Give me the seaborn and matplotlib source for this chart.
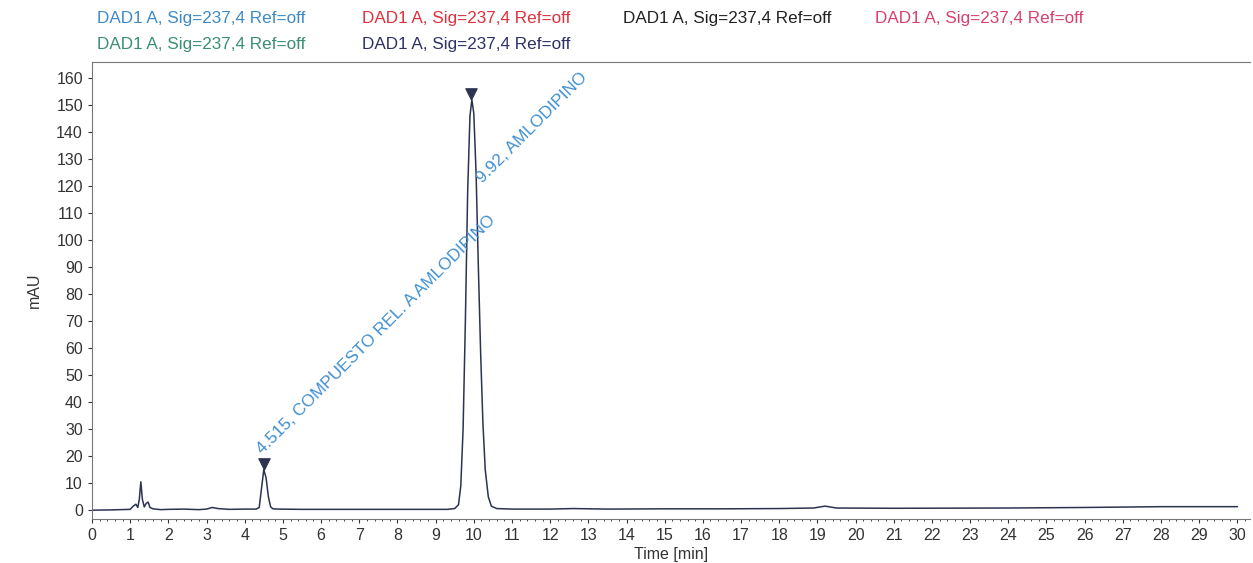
import pandas as pd
import seaborn as sns
import matplotlib.pyplot as plt
from matplotlib.ticker import MultipleLocator

# chromatogram trace (time in min, signal in mAU)
time_min = [0.0, 0.5, 1.0, 1.08, 1.15, 1.2, 1.24, 1.28, 1.32, 1.37, 1.42, 1.47, 1.52, 1.6,
            1.8, 2.0, 2.4, 2.8, 3.0, 3.15, 3.3, 3.6, 4.0, 4.3, 4.38, 4.44, 4.5, 4.56, 4.62,
            4.68, 4.74, 4.9, 5.5, 6.5, 7.5, 8.5, 9.3, 9.5, 9.6, 9.66, 9.72, 9.78, 9.84, 9.9,
            9.95, 10.0, 10.06, 10.12, 10.18, 10.24, 10.3, 10.38, 10.46, 10.6, 11.0, 12.0,
            12.6, 13.5, 15.0, 16.5, 18.0, 18.9, 19.2, 19.5, 21.0, 24.0, 26.0, 28.0, 30.0]
signal_mau = [0.0, 0.1, 0.3, 1.5, 2.2, 1.0, 4.0, 10.5, 4.0, 1.2, 2.5, 3.0, 1.0, 0.5,
              0.2, 0.3, 0.4, 0.2, 0.4, 1.0, 0.6, 0.3, 0.4, 0.4, 1.0, 8.0, 15.0, 12.0, 5.0,
              1.2, 0.5, 0.4, 0.3, 0.3, 0.3, 0.3, 0.3, 0.6, 2.0, 9.0, 30.0, 70.0, 118.0, 146.0,
              152.0, 147.0, 125.0, 90.0, 58.0, 32.0, 15.0, 5.0, 1.5, 0.6, 0.4, 0.4,
              0.6, 0.4, 0.5, 0.5, 0.6, 0.8, 1.5, 0.8, 0.7, 0.8, 1.0, 1.3, 1.3]

# integrated peaks
peak_rt = [4.515, 9.92]
peak_mark = [17.0, 154.0]
peak_names = ["4.515, COMPUESTO REL. A AMLODIPINO", "9.92, AMLODIPINO"]
label_x = [4.47, 10.24]
label_y = [20.5, 121.0]

legend_txt = "DAD1 A, Sig=237,4 Ref=off"
legend_colors = ["#3d8ac9", "#e0303a", "#222222", "#d9406e", "#3a8f72", "#2d3168"]

trace = pd.DataFrame({"Time": time_min, "mAU": signal_mau})
marks = pd.DataFrame({"Time": peak_rt, "mAU": peak_mark})

sns.set_style("ticks")
plt.rcParams["font.family"] = ["Liberation Sans", "DejaVu Sans"]

fig = plt.figure(figsize=(12.53, 5.63), dpi=100)
ax = fig.add_axes([0.0734, 0.078, 0.9242, 0.812])

sns.lineplot(data=trace, x="Time", y="mAU", color="#2b3350", linewidth=1.1,
             sort=False, estimator=None, ax=ax)
sns.scatterplot(data=marks, x="Time", y="mAU", marker="v", s=70, color="#2b3350",
                edgecolor="#2b3350", ax=ax, zorder=5)

for name, x, y in zip(peak_names, label_x, label_y):
    ax.text(x, y, name, rotation=45, rotation_mode="anchor", ha="left", va="baseline",
            color="#3f8fd2", fontsize=12.3)

ax.set_xlim(0, 30.33)
ax.set_ylim(-3.3, 166)
ax.xaxis.set_major_locator(MultipleLocator(1))
ax.xaxis.set_minor_locator(MultipleLocator(0.2))
ax.yaxis.set_major_locator(MultipleLocator(10))
ax.tick_params(axis="both", labelsize=11.5, colors="#333333", length=3, width=0.8)
ax.tick_params(axis="x", which="minor", length=1.5, width=0.6)
for side in ["left", "bottom", "top"]:
    ax.spines[side].set_color("#777777")
    ax.spines[side].set_linewidth(0.8)
ax.spines["right"].set_visible(False)

ax.set_xlabel("Time [min]", fontsize=11.5, color="#333333", labelpad=3)
ax.set_ylabel("mAU", fontsize=11.5, color="#333333", labelpad=10)

# legend lines written as text, like the instrument printout
legend_pos = [(97, 18), (362, 18), (623, 18), (875, 18), (97, 45), (362, 45)]
for (px, py), col in zip(legend_pos, legend_colors):
    fig.text(px / 1253, 1 - py / 563, legend_txt, color=col, fontsize=12.3,
             ha="left", va="center")

fig.savefig("out.png", dpi=100)
